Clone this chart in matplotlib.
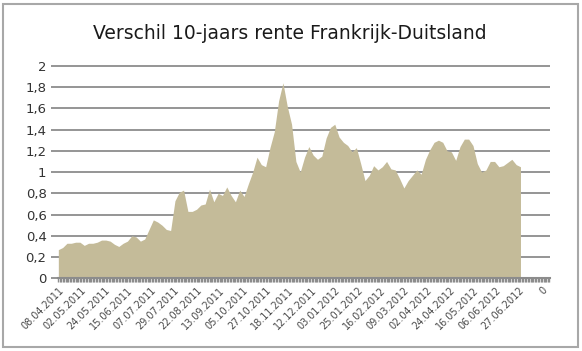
import numpy as np
import matplotlib.pyplot as plt
from matplotlib.patches import Rectangle

spread = [
    0.27, 0.29, 0.33, 0.33, 0.34, 0.34, 0.31, 0.33, 0.33, 0.34,
    0.36, 0.36, 0.35, 0.32, 0.30, 0.33, 0.35, 0.40, 0.39, 0.35,
    0.37, 0.46, 0.55, 0.53, 0.50, 0.46, 0.45, 0.73, 0.81, 0.83,
    0.63, 0.63, 0.65, 0.69, 0.70, 0.84, 0.72, 0.80, 0.78, 0.86,
    0.78, 0.72, 0.83, 0.77, 0.89, 1.00, 1.14, 1.07, 1.05, 1.23,
    1.38, 1.67, 1.84, 1.62, 1.45, 1.10, 1.00, 1.14, 1.24, 1.16,
    1.12, 1.15, 1.32, 1.42, 1.45, 1.33, 1.28, 1.25, 1.19, 1.23,
    1.08, 0.92, 0.97, 1.06, 1.02, 1.05, 1.10, 1.03, 1.02, 0.94,
    0.85, 0.92, 0.97, 1.02, 0.98, 1.12, 1.21, 1.28, 1.30, 1.28,
    1.20, 1.19, 1.11, 1.24, 1.31, 1.31, 1.25, 1.08, 1.00, 1.02,
    1.10, 1.10, 1.05, 1.06, 1.09, 1.12, 1.07, 1.05,
]
stap = 3  # handelsdagen tussen twee waarden

datum_labels = [
    "08.04.2011", "02.05.2011", "24.05.2011", "15.06.2011", "07.07.2011",
    "29.07.2011", "22.08.2011", "13.09.2011", "05.10.2011", "27.10.2011",
    "18.11.2011", "12.12.2011", "03.01.2012", "25.01.2012", "16.02.2012",
    "09.03.2012", "02.04.2012", "24.04.2012", "16.05.2012", "06.06.2012",
    "27.06.2012", "0",
]
label_stap = 16
n_categorieen = 342

x = np.arange(len(spread)) * stap

fig = plt.figure(figsize=(5.82, 3.51), dpi=100)
ax = fig.add_axes([0.099, 0.207, 0.846, 0.608])

ax.fill_between(x, spread, 0, color="#C4BB99", linewidth=0)

ax.set_xlim(-0.5, n_categorieen - 0.5)
ax.set_ylim(0, 2.008)
yticks = np.arange(0, 2.01, 0.2)
ax.set_yticks(yticks)
ax.set_yticklabels([f"{v:.1f}".replace(".", ",").replace(",0", "") for v in yticks],
                   fontsize=9.5, color="#333333")
ax.yaxis.grid(True, color="#8C8C8C", linewidth=1.3)
ax.set_axisbelow(True)

ax.set_xticks(np.arange(len(datum_labels)) * label_stap)
ax.set_xticklabels(datum_labels, rotation=45, ha="right", va="top",
                   rotation_mode="anchor", fontsize=7, color="#4a4a4a")
ax.set_xticks(np.arange(n_categorieen), minor=True)
ax.tick_params(axis="x", which="both", direction="out", length=3, width=1,
               color="#8C8C8C", pad=2)
ax.tick_params(axis="y", length=5, width=1.3, color="#8C8C8C", pad=3)

for s in ["left", "right", "top"]:
    ax.spines[s].set_visible(False)
ax.spines["bottom"].set_color("#8C8C8C")
ax.spines["bottom"].set_linewidth(1.5)

fig.text(0.498, 0.905, "Verschil 10-jaars rente Frankrijk-Duitsland",
         ha="center", va="center", fontsize=13.5, color="#1a1a1a")

# kader rond de grafiek
fig.patches.append(Rectangle((0.006, 0.012), 0.987, 0.978, transform=fig.transFigure,
                             fill=False, edgecolor="#A8A8A8", linewidth=1.5))

fig.savefig("out.png", dpi=100, facecolor="white")
